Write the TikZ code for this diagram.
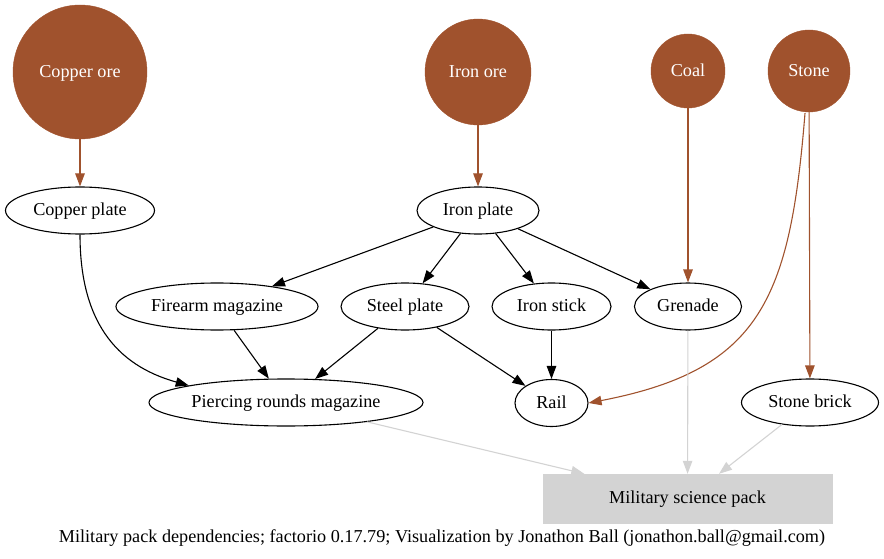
\documentclass[tikz,border=0pt]{standalone}
\usepackage{fontspec}
\setmainfont{Liberation Serif}
\usetikzlibrary{shapes.geometric,arrows.meta}
\definecolor{sienna}{HTML}{A0522D}
\definecolor{lgray}{HTML}{D3D3D3}
\tikzset{
  lbl/.style={font=\fontsize{18.2}{20}\selectfont,text height=13pt,text depth=2.6pt},
  ore/.style={lbl,circle,fill=sienna,draw=sienna,text=white,inner sep=0pt},
  item/.style={lbl,ellipse,draw=black,line width=1.1pt,inner sep=0pt,minimum height=47pt},
  pack/.style={lbl,rectangle,fill=lgray,draw=lgray,inner sep=0pt,minimum width=289pt,minimum height=49pt},
  blk/.style={-{Triangle[length=13pt,width=9.5pt,fill=black]},draw=black,line width=1.1pt},
  brn/.style={-{Triangle[length=13pt,width=9.5pt,fill=sienna]},draw=sienna,line width=1.1pt},
  gry/.style={-{Triangle[length=13pt,width=9.5pt,fill=lgray]},draw=lgray,line width=1.1pt},
}
\begin{document}
\begin{tikzpicture}[x=1pt,y=-1pt]
\useasboundingbox (0,0) rectangle (884,559);
% ores
\node[ore,minimum size=134pt] (cu) at (80,72) {Copper ore};
\node[ore,minimum size=106pt] (fe) at (478,72) {Iron ore};
\node[ore,minimum size=74pt] (coal) at (688,71) {Coal};
\node[ore,minimum size=82pt] (stone) at (809,71) {Stone};
% items
\node[item,minimum width=149pt] (cp) at (80,210.5) {Copper plate};
\node[item,minimum width=122pt] (ip) at (478,210.5) {Iron plate};
\node[item,minimum width=202pt] (fm) at (217,306.5) {Firearm magazine};
\node[item,minimum width=128pt] (sp) at (405,306.5) {Steel plate};
\node[item,minimum width=119pt] (is) at (551.5,306.5) {Iron stick};
\node[item,minimum width=107pt] (gr) at (688,306.5) {Grenade};
\node[item,minimum width=274pt] (prm) at (286,402.5) {Piercing rounds magazine};
\node[item,minimum width=73pt] (rail) at (551.5,403) {Rail};
\node[item,minimum width=137pt] (sb) at (810,402.5) {Stone brick};
\node[pack] (msp) at (687.5,498.5) {Military science pack};
\node[lbl,inner sep=0pt] (cap) at (442,537) {Military pack dependencies; factorio 0.17.79; Visualization by Jonathon Ball (jonathon.ball@gmail.com)};
% edges
\draw[brn] (cu) -- (cp);
\draw[brn] (fe) -- (ip);
\draw[brn] (coal) -- (gr);
\draw[brn] (stone) -- (sb);
\coordinate (st1) at ([xshift=-4pt,yshift=-1pt]stone.south);
\draw[brn] (st1) .. controls (790,300) and (760,370) .. (rail.east);
\draw[blk] (cp.south) .. controls (80,320) and (115,365) .. (prm.north west);
\draw[blk] (ip) -- (fm);
\draw[blk] (ip) -- (sp);
\draw[blk] (ip) -- (is);
\draw[blk] (ip) -- (gr);
\draw[blk] (fm) -- (prm);
\draw[blk] (sp) -- (prm);
\draw[blk] (sp) -- (rail);
\draw[blk] (is) -- (rail);
\draw[gry] (prm) -- (msp);
\draw[gry] (gr) -- (msp);
\draw[gry] (sb) -- (msp);
\end{tikzpicture}
\end{document}
